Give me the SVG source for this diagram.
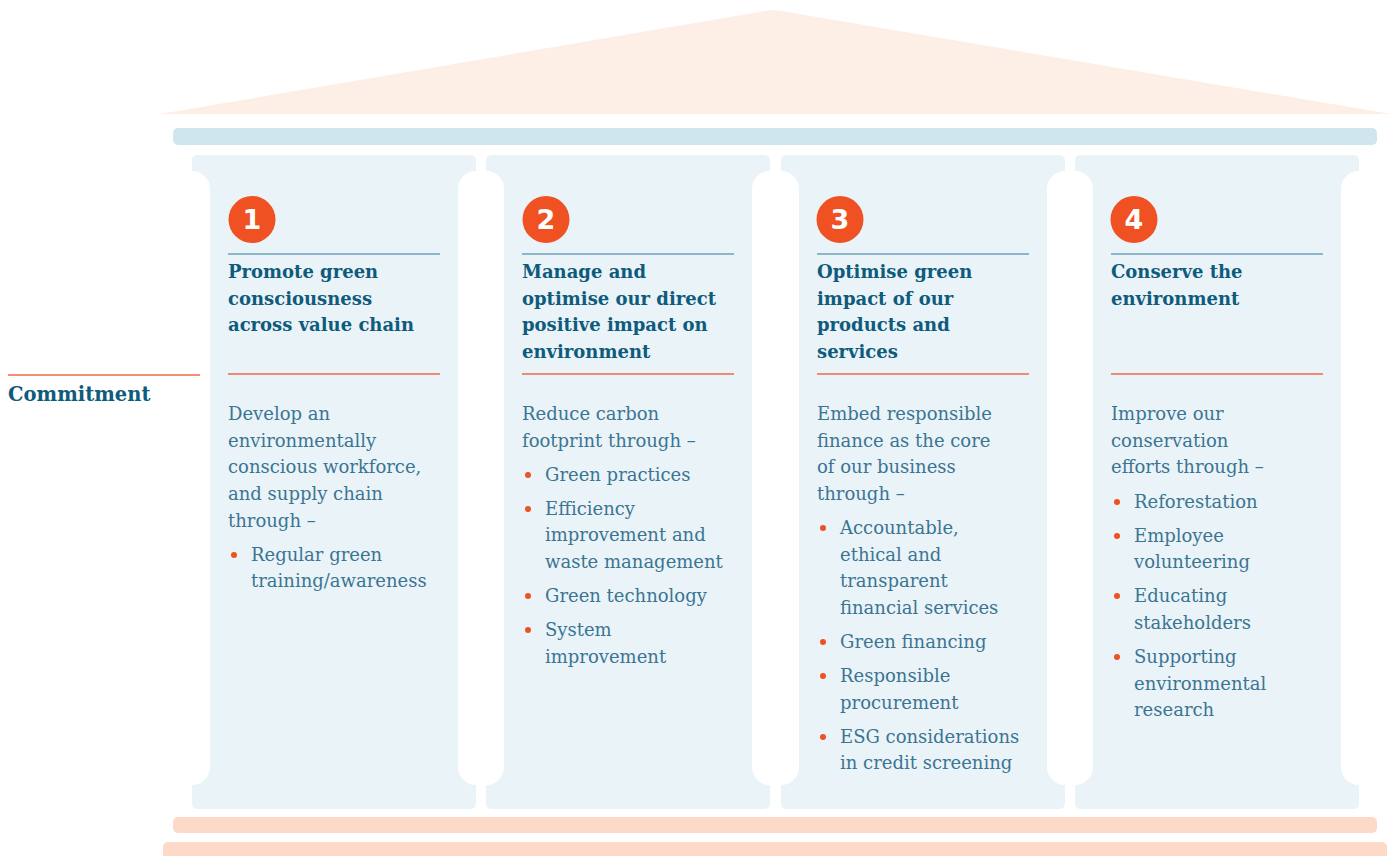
<svg xmlns="http://www.w3.org/2000/svg" xmlns:xlink="http://www.w3.org/1999/xlink" width="1391" height="856" viewBox="0 0 1391 856">
<style>
.pillar{fill:#eaf3f8}
.title{font-family:"DejaVu Serif","Liberation Serif",serif;font-weight:bold;font-size:18px;fill:#0e5b7c}
.big{font-size:19.5px}
.body{font-family:"DejaVu Serif","Liberation Serif",serif;font-size:18px;fill:#3a7592}
.num{font-family:"DejaVu Sans","Liberation Sans",sans-serif;font-weight:bold;font-size:27px;fill:#ffffff;text-anchor:middle}
.circ{fill:#f05123}
.bl{stroke:#6ba3bc;stroke-width:1.5}
.ol{stroke:#ee6a45;stroke-width:1.3}
.dot{fill:#f05123}
</style>
<defs>
<path id="pil" d="M6,155 H278 Q284,155 284,161 V171 A18 18 0 0 0 266,189 V767 A18 18 0 0 0 284,785 V803 Q284,809 278,809 H6 Q0,809 0,803 V785 A18 18 0 0 0 18,767 V189 A18 18 0 0 0 0,171 V161 Q0,155 6,155 Z"/>
</defs>
<g id="temple">
<path d="M160,114 L765,11 Q773,9.5 781,11 L1391,114 Z" fill="#fdeee6"/>
<rect x="173" y="128" width="1204" height="17" rx="5" fill="#d0e6ef"/>
<rect x="173" y="817" width="1204" height="16" rx="5" fill="#fcdac7"/>
<rect x="163" y="842" width="1224" height="20" rx="5" fill="#fcdac7"/>
</g>
<g id="commitment">
<line x1="8" y1="375" x2="200" y2="375" class="ol"/>
<text x="8" y="401" class="title big">Commitment</text>
</g>
<g id="pillar1">
<use xlink:href="#pil" href="#pil" x="192" class="pillar"/>
<circle cx="252" cy="219.5" r="23.5" class="circ"/>
<text x="252" y="229" class="num">1</text>
<line x1="228" y1="254" x2="440" y2="254" class="bl"/>
<text class="title"><tspan x="228" y="278">Promote green</tspan><tspan x="228" y="304.7">consciousness</tspan><tspan x="228" y="331.3">across value chain</tspan></text>
<line x1="228" y1="374" x2="440" y2="374" class="ol"/>
<text class="body"><tspan x="228" y="420">Develop an</tspan><tspan x="228" y="447">environmentally</tspan><tspan x="228" y="473">conscious workforce,</tspan><tspan x="228" y="500">and supply chain</tspan><tspan x="228" y="527">through –</tspan><tspan x="251" y="561">Regular green</tspan><tspan x="251" y="587">training/awareness</tspan></text>
<circle cx="234" cy="555" r="3" class="dot"/>
</g>
<g id="pillar2">
<use xlink:href="#pil" href="#pil" x="486" class="pillar"/>
<circle cx="546" cy="219.5" r="23.5" class="circ"/>
<text x="546" y="229" class="num">2</text>
<line x1="522" y1="254" x2="734" y2="254" class="bl"/>
<text class="title"><tspan x="522" y="278">Manage and</tspan><tspan x="522" y="304.7">optimise our direct</tspan><tspan x="522" y="331.3">positive impact on</tspan><tspan x="522" y="358">environment</tspan></text>
<line x1="522" y1="374" x2="734" y2="374" class="ol"/>
<text class="body"><tspan x="522" y="420">Reduce carbon</tspan><tspan x="522" y="447">footprint through –</tspan><tspan x="545" y="481">Green practices</tspan><tspan x="545" y="515">Efficiency</tspan><tspan x="545" y="541">improvement and</tspan><tspan x="545" y="568">waste management</tspan><tspan x="545" y="602">Green technology</tspan><tspan x="545" y="636">System</tspan><tspan x="545" y="663">improvement</tspan></text>
<circle cx="528" cy="475" r="3" class="dot"/>
<circle cx="528" cy="509" r="3" class="dot"/>
<circle cx="528" cy="596" r="3" class="dot"/>
<circle cx="528" cy="630" r="3" class="dot"/>
</g>
<g id="pillar3">
<use xlink:href="#pil" href="#pil" x="781" class="pillar"/>
<circle cx="840" cy="219.5" r="23.5" class="circ"/>
<text x="840" y="229" class="num">3</text>
<line x1="817" y1="254" x2="1029" y2="254" class="bl"/>
<text class="title"><tspan x="817" y="278">Optimise green</tspan><tspan x="817" y="304.7">impact of our</tspan><tspan x="817" y="331.3">products and</tspan><tspan x="817" y="358">services</tspan></text>
<line x1="817" y1="374" x2="1029" y2="374" class="ol"/>
<text class="body"><tspan x="817" y="420">Embed responsible</tspan><tspan x="817" y="447">finance as the core</tspan><tspan x="817" y="473">of our business</tspan><tspan x="817" y="500">through –</tspan><tspan x="840" y="534">Accountable,</tspan><tspan x="840" y="561">ethical and</tspan><tspan x="840" y="587">transparent</tspan><tspan x="840" y="614">financial services</tspan><tspan x="840" y="648">Green financing</tspan><tspan x="840" y="682">Responsible</tspan><tspan x="840" y="709">procurement</tspan><tspan x="840" y="743">ESG considerations</tspan><tspan x="840" y="769">in credit screening</tspan></text>
<circle cx="823" cy="528" r="3" class="dot"/>
<circle cx="823" cy="642" r="3" class="dot"/>
<circle cx="823" cy="676" r="3" class="dot"/>
<circle cx="823" cy="737" r="3" class="dot"/>
</g>
<g id="pillar4">
<use xlink:href="#pil" href="#pil" x="1075" class="pillar"/>
<circle cx="1134" cy="219.5" r="23.5" class="circ"/>
<text x="1134" y="229" class="num">4</text>
<line x1="1111" y1="254" x2="1323" y2="254" class="bl"/>
<text class="title"><tspan x="1111" y="278">Conserve the</tspan><tspan x="1111" y="304.7">environment</tspan></text>
<line x1="1111" y1="374" x2="1323" y2="374" class="ol"/>
<text class="body"><tspan x="1111" y="420">Improve our</tspan><tspan x="1111" y="447">conservation</tspan><tspan x="1111" y="473">efforts through –</tspan><tspan x="1134" y="508">Reforestation</tspan><tspan x="1134" y="542">Employee</tspan><tspan x="1134" y="568">volunteering</tspan><tspan x="1134" y="602">Educating</tspan><tspan x="1134" y="629">stakeholders</tspan><tspan x="1134" y="663">Supporting</tspan><tspan x="1134" y="690">environmental</tspan><tspan x="1134" y="716">research</tspan></text>
<circle cx="1117" cy="502" r="3" class="dot"/>
<circle cx="1117" cy="536" r="3" class="dot"/>
<circle cx="1117" cy="596" r="3" class="dot"/>
<circle cx="1117" cy="657" r="3" class="dot"/>
</g>
<g id="connectors"/>
</svg>
